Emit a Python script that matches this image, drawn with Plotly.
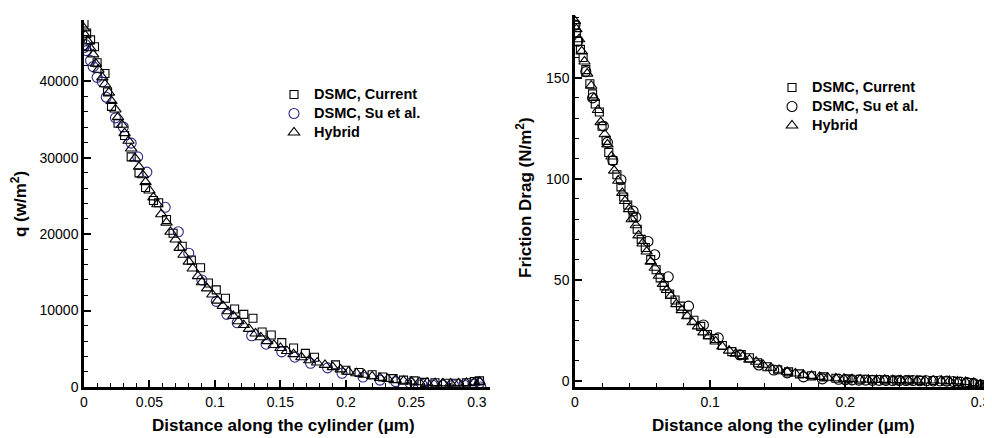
import plotly.graph_objects as go

# ---------------- Left panel: heat flux q (w/m^2) ----------------
cur_x_q = [0.000, 0.002, 0.005, 0.008, 0.010, 0.016, 0.018, 0.021, 0.026, 0.031, 0.036, 0.042,
           0.047, 0.053, 0.057, 0.063, 0.068, 0.075, 0.082, 0.089, 0.095, 0.101, 0.108, 0.115,
           0.122, 0.129, 0.136, 0.143, 0.151, 0.160, 0.169, 0.176, 0.192, 0.200, 0.210, 0.220,
           0.228, 0.236, 0.244, 0.252, 0.260, 0.268, 0.276, 0.284, 0.292, 0.298, 0.302]
cur_q = [47600, 46300, 45400, 44500, 42400, 41000, 38600, 36700, 34500, 32900, 30100, 28000,
         26100, 24400, 24100, 21900, 20100, 18400, 16600, 15600, 13600, 12700, 11600, 10200,
         9500, 9000, 7200, 6800, 5800, 5100, 4400, 3900, 2900, 2200, 1900, 1600,
         1300, 1100, 900, 800, 600, 550, 500, 500, 550, 700, 800]

su_x_q = [0.000, 0.001, 0.002, 0.005, 0.007, 0.010, 0.014, 0.017, 0.024, 0.030, 0.036, 0.041,
          0.048, 0.062, 0.072, 0.080, 0.090, 0.101, 0.109, 0.117, 0.128, 0.139, 0.151, 0.161,
          0.173, 0.186, 0.197, 0.213, 0.226, 0.238, 0.249, 0.258, 0.266, 0.274, 0.282, 0.290,
          0.297, 0.302, 0.303]
su_q = [44400, 44800, 44000, 42700, 41900, 40500, 39900, 37900, 35200, 34000, 31900, 30100,
        28100, 23500, 20300, 17500, 14000, 11200, 9500, 8400, 6700, 5600, 4600, 3900,
        3100, 2500, 1800, 1300, 900, 700, 500, 350, 260, 250, 260, 280,
        350, 500, 0]

hyb_x_q = [0.000, 0.001, 0.003, 0.005, 0.007, 0.009, 0.011, 0.014, 0.016, 0.019, 0.021, 0.024,
           0.026, 0.029, 0.031, 0.034, 0.036, 0.039, 0.042, 0.045, 0.047, 0.050, 0.053, 0.056,
           0.059, 0.063, 0.066, 0.070, 0.073, 0.076, 0.080, 0.083, 0.087, 0.090, 0.094, 0.098,
           0.102, 0.106, 0.110, 0.114, 0.118, 0.122, 0.126, 0.131, 0.135, 0.140, 0.145, 0.150,
           0.155, 0.160, 0.166, 0.172, 0.178, 0.184, 0.190, 0.196, 0.202, 0.208, 0.214, 0.220,
           0.226, 0.232, 0.238, 0.244, 0.250, 0.256, 0.262, 0.268, 0.274, 0.280, 0.286, 0.292,
           0.298, 0.302]
hyb_q = [46900, 46000, 45200, 44300, 43500, 42300, 41500, 40500, 39600, 38500, 37400, 36300,
         35300, 34300, 33200, 32200, 31200, 29900, 28800, 27700, 26800, 25700, 24800, 23900,
         22600, 21500, 20300, 19300, 18200, 17300, 16400, 15500, 14500, 13700, 12900, 12100,
         11300, 10600, 9900, 9300, 8600, 8100, 7600, 7000, 6500, 6000, 5500, 5100,
         4700, 4300, 3900, 3500, 3200, 2900, 2600, 2300, 2000, 1800, 1600, 1400,
         1200, 1050, 920, 810, 710, 630, 560, 510, 480, 470, 480, 520,
         600, 700]

# ---------------- Right panel: friction drag (N/m^2) ----------------
cur_x_f = [0.000, 0.001, 0.002, 0.004, 0.006, 0.008, 0.011, 0.013, 0.015, 0.018, 0.020, 0.023,
           0.025, 0.028, 0.031, 0.034, 0.036, 0.039, 0.043, 0.046, 0.049, 0.052, 0.056, 0.060,
           0.063, 0.066, 0.070, 0.074, 0.078, 0.083, 0.088, 0.093, 0.098, 0.103, 0.109, 0.116,
           0.123, 0.129, 0.135, 0.142, 0.150, 0.158, 0.166, 0.175, 0.184, 0.193, 0.202, 0.211,
           0.220, 0.229, 0.238, 0.247, 0.256, 0.265, 0.274, 0.283, 0.292, 0.300, 0.305]
cur_f = [176, 172, 168, 164, 160, 154, 147, 142, 137, 133, 126, 119,
         113, 109, 102, 96, 91, 87, 81, 75, 70, 66, 60, 55,
         51, 47, 43, 40, 37, 33, 30, 27, 23, 21, 17.5, 14.5,
         13, 11.5, 9, 7, 5.5, 4.5, 3.5, 2.5, 2, 1.3, 1.0, 0.8,
         0.6, 0.5, 0.4, 0.4, 0.3, 0.2, 0, -0.3, -0.8, -1.8, -2.5]

su_x_f = [0.000, 0.002, 0.008, 0.013, 0.021, 0.024, 0.028, 0.034, 0.043, 0.045, 0.054, 0.059,
          0.069, 0.084, 0.095, 0.106, 0.122, 0.136, 0.147, 0.157, 0.169, 0.183, 0.195, 0.200,
          0.205, 0.210, 0.215, 0.220, 0.225, 0.230, 0.235, 0.240, 0.245, 0.250, 0.255, 0.260,
          0.265, 0.270, 0.275, 0.280, 0.285, 0.290, 0.295, 0.300, 0.304]
su_f = [176, 168, 153, 140, 126, 118, 109, 99.5, 84, 81, 69, 62.4,
        51.5, 37, 27.7, 21.3, 12.9, 7.9, 5.4, 4, 2, 1, 0.8, 0.6,
        0.5, 0.4, 0.4, 0.3, 0.3, 0.3, 0.2, 0.2, 0.2, 0.2, 0.1, 0.1,
        0, 0, -0.1, -0.3, -0.5, -0.8, -1.2, -2, -3]

hyb_x_f = [0.000, 0.001, 0.003, 0.005, 0.007, 0.009, 0.012, 0.014, 0.017, 0.019, 0.022, 0.024,
           0.027, 0.029, 0.032, 0.035, 0.037, 0.040, 0.042, 0.045, 0.047, 0.050, 0.053, 0.056,
           0.059, 0.062, 0.065, 0.068, 0.071, 0.075, 0.079, 0.083, 0.087, 0.091, 0.095, 0.099,
           0.104, 0.109, 0.114, 0.119, 0.124, 0.129, 0.134, 0.139, 0.145, 0.151, 0.157, 0.163,
           0.169, 0.175, 0.181, 0.187, 0.193, 0.199, 0.205, 0.211, 0.217, 0.223, 0.229, 0.235,
           0.241, 0.247, 0.253, 0.259, 0.265, 0.271, 0.277, 0.283, 0.289, 0.295, 0.300, 0.304]
hyb_f = [178, 174, 169, 163, 158, 152, 146, 140, 134, 128, 122, 117,
         111, 104, 99, 93, 89, 85, 80, 77, 72, 68, 64, 59,
         56, 52, 48, 45, 42, 38, 35, 32, 29, 27, 24, 22,
         19.5, 17, 15, 13.5, 12, 10.5, 9.5, 8, 6.5, 5.5, 4.5, 3.7,
         3, 2.5, 2, 1.6, 1.3, 1.1, 0.9, 0.7, 0.6, 0.5, 0.5, 0.4,
         0.4, 0.3, 0.3, 0.2, 0.2, 0.1, 0, -0.2, -0.5, -1, -1.7, -2.3]

series_names = ["DSMC, Current", "DSMC, Su et al.", "Hybrid"]

# page body has an 8px margin; the figure is sized to fill the rest of the window
OFF = 8
W, H = 992 - OFF, 438 - OFF
FONT = "Arial, Liberation Sans, Helvetica, sans-serif"
NAVY = "#2a2a88"

def lbl(s):
    return '<span style="font-size:14.5px"><b>' + s + '</b></span>'

def mk(sym, color, size):
    return dict(symbol=sym, size=size, color=color, line=dict(color=color, width=1.1))

fig = go.Figure()
# left
fig.add_trace(go.Scatter(x=cur_x_q, y=cur_q, mode="markers", name=lbl(series_names[0]),
                         marker=mk("square-open", "black", 8), xaxis="x", yaxis="y", legend="legend"))
fig.add_trace(go.Scatter(x=su_x_q, y=su_q, mode="markers", name=lbl(series_names[1]),
                         marker=mk("circle-open", NAVY, 10), xaxis="x", yaxis="y", legend="legend"))
fig.add_trace(go.Scatter(x=hyb_x_q, y=hyb_q, mode="markers", name=lbl(series_names[2]),
                         marker=mk("triangle-up-open", "black", 10), xaxis="x", yaxis="y", legend="legend"))
# right
fig.add_trace(go.Scatter(x=cur_x_f, y=cur_f, mode="markers", name=lbl(series_names[0]),
                         marker=mk("square-open", "black", 8), xaxis="x2", yaxis="y2", legend="legend2"))
fig.add_trace(go.Scatter(x=su_x_f, y=su_f, mode="markers", name=lbl(series_names[1]),
                         marker=mk("circle-open", "black", 10), xaxis="x2", yaxis="y2", legend="legend2"))
fig.add_trace(go.Scatter(x=hyb_x_f, y=hyb_f, mode="markers", name=lbl(series_names[2]),
                         marker=mk("triangle-up-open", "black", 10), xaxis="x2", yaxis="y2", legend="legend2"))

def px_x(p):
    return (p - OFF) / W

def px_y(p):
    return (H - (p - OFF)) / H

axis_common = dict(showline=True, linecolor="black", linewidth=2.5, ticks="inside",
                   ticklen=7, tickwidth=2.2, tickcolor="black", showgrid=False, zeroline=False,
                   tickfont=dict(family=FONT, size=14, color="black"), mirror=False,
                   automargin=False, layer="below traces", ticklabeloverflow="allow")
minor_common = dict(ticks="inside", ticklen=4, tickwidth=1.2, tickcolor="black", showgrid=False)

fig.update_layout(
    width=W, height=H, margin=dict(l=0, r=0, t=0, b=0, autoexpand=False),
    paper_bgcolor="white", plot_bgcolor="white",
    font=dict(family=FONT, color="black"),
    xaxis=dict(domain=[px_x(84), px_x(490)], range=[0, 0.31], anchor="y",
               tickvals=[0, 0.05, 0.1, 0.15, 0.2, 0.25, 0.3],
               ticktext=["0", "0.05", "0.1", "0.15", "0.2", "0.25", "0.3"],
               minor=dict(dtick=0.01, **minor_common), **axis_common),
    yaxis=dict(domain=[px_y(387), px_y(20)], range=[0, 48000], anchor="x",
               tickvals=[0, 10000, 20000, 30000, 40000],
               ticktext=["0", "10000", "20000", "30000", "40000"],
               minor=dict(dtick=2000, **minor_common), **axis_common),
    xaxis2=dict(domain=[px_x(575), 1.0], range=[0, 0.3085], anchor="y2",
                tickvals=[0, 0.1, 0.2, 0.3], ticktext=["0", "0.1", "0.2", "0.3"],
                minor=dict(dtick=0.02, **minor_common), **axis_common),
    yaxis2=dict(domain=[px_y(387), px_y(15)], range=[-3, 181], anchor="x2",
                tickvals=[0, 50, 100, 150], ticktext=["0", "50", "100", "150"],
                minor=dict(dtick=10, **minor_common), **axis_common),
    legend=dict(x=px_x(274), y=px_y(80), xanchor="left", yanchor="top",
                xref="paper", yref="paper",
                bgcolor="rgba(0,0,0,0)", borderwidth=0, itemwidth=30,
                font=dict(family=FONT, size=12, color="black"), tracegroupgap=0),
    legend2=dict(x=px_x(772), y=px_y(73), xanchor="left", yanchor="top",
                 xref="paper", yref="paper",
                 bgcolor="rgba(0,0,0,0)", borderwidth=0, itemwidth=30,
                 font=dict(family=FONT, size=12, color="black"), tracegroupgap=0),
    showlegend=True,
)

title_font = dict(family=FONT, size=17, color="black")
ann = [
    dict(text="<b>Distance along the cylinder (μm)</b>", x=px_x(283), y=px_y(425),
         xref="paper", yref="paper", showarrow=False, xanchor="center", yanchor="middle", font=title_font),
    dict(text="<b>Distance along the cylinder (μm)</b>", x=px_x(783), y=px_y(425),
         xref="paper", yref="paper", showarrow=False, xanchor="center", yanchor="middle", font=title_font),
    dict(text="<b>q (w/m<sup>2</sup>)</b>", x=px_x(19), y=px_y(204),
         xref="paper", yref="paper", showarrow=False, xanchor="center", yanchor="middle",
         textangle=-90, font=title_font),
    dict(text="<b>Friction Drag (N/m<sup>2</sup>)</b>", x=px_x(524), y=px_y(198),
         xref="paper", yref="paper", showarrow=False, xanchor="center", yanchor="middle",
         textangle=-90, font=title_font),
]
fig.update_layout(annotations=ann)

fig.write_html("out.html")
